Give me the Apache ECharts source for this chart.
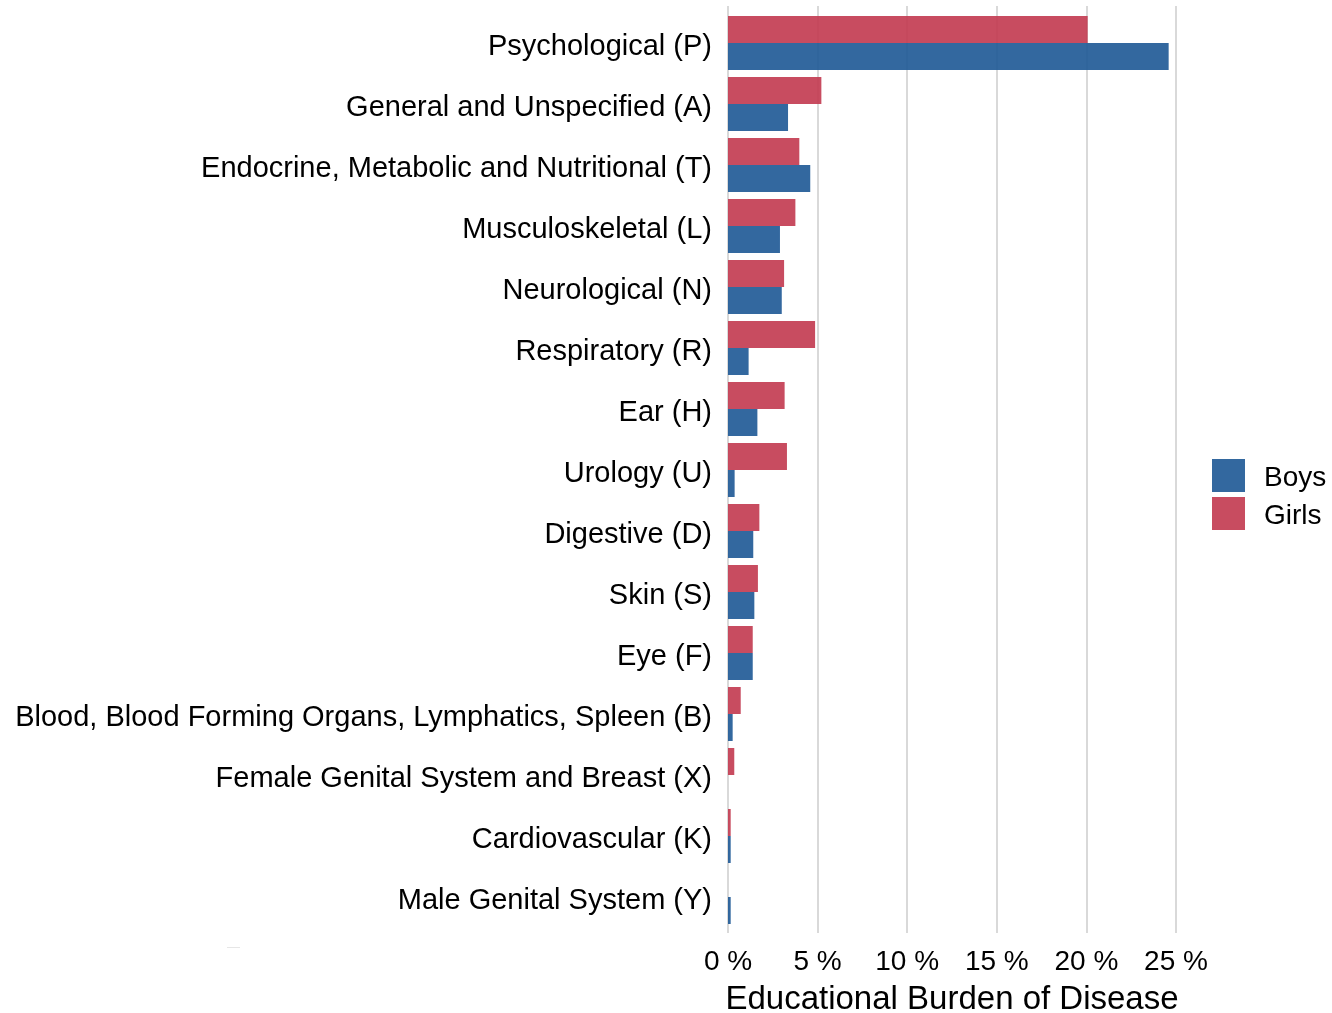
<!DOCTYPE html>
<html>
<head>
<meta charset="utf-8">
<script src="https://cdn.jsdelivr.net/npm/echarts@6/dist/echarts.min.js"></script>
<style>
  html, body { margin: 0; padding: 0; background: #fff; }
  #chart { width: 1332px; height: 1013px; }
</style>
</head>
<body>
<div id="chart"></div>
<script>
// categories top to bottom
const categories = [
  'Psychological (P)',
  'General and Unspecified (A)',
  'Endocrine, Metabolic and Nutritional (T)',
  'Musculoskeletal (L)',
  'Neurological (N)',
  'Respiratory (R)',
  'Ear (H)',
  'Urology (U)',
  'Digestive (D)',
  'Skin (S)',
  'Eye (F)',
  'Blood, Blood Forming Organs, Lymphatics, Spleen (B)',
  'Female Genital System and Breast (X)',
  'Cardiovascular (K)',
  'Male Genital System (Y)'
]
// percent of educational burden
const girls = [20.07, 5.21, 3.98, 3.76, 3.13, 4.86, 3.16, 3.29, 1.75, 1.67, 1.38, 0.71, 0.35, 0.15, null]
const boys = [24.59, 3.35, 4.59, 2.9, 3.0, 1.15, 1.64, 0.37, 1.41, 1.47, 1.38, 0.26, null, 0.15, 0.15]
const xTicks = [0, 5, 10, 15, 20, 25]

const font = "'Liberation Sans', Arial, sans-serif"
const plotLeft = 728
const plotRight = 1332 - 1176

const myChart = echarts.init(document.getElementById('chart'))

const option = {
  backgroundColor: '#fff',
  textStyle: { fontFamily: font },
  animation: false,
  legend: {
    data: ['Boys', 'Girls'],
    orient: 'vertical',
    left: 1207,
    top: 454,
    itemWidth: 33,
    itemHeight: 33,
    itemGap: 5,
    icon: 'rect',
    formatter: (name) => '{t|' + name + '}',
    textStyle: {
      fontSize: 28,
      color: '#000',
      fontFamily: font,
      rich: { t: { fontSize: 28, color: '#000', fontFamily: font, padding: [5, 0, 0, 14] } }
    }
  },
  grid: [
    // bars
    { left: plotLeft, right: plotRight, top: 12.5, height: 915, containLabel: false, outerBoundsMode: 'none' },
    // gridlines, extended a bit past the bars like ggplot
    { left: plotLeft, right: plotRight, top: 6, height: 927, containLabel: false, outerBoundsMode: 'none' }
  ],
  xAxis: [
    {
      type: 'value',
      gridIndex: 0,
      min: xTicks[0],
      max: xTicks[xTicks.length - 1],
      interval: 5,
      axisLine: { show: false },
      axisTick: { show: false },
      axisLabel: { show: false },
      splitLine: { show: false }
    },
    {
      type: 'value',
      gridIndex: 1,
      min: xTicks[0],
      max: xTicks[xTicks.length - 1],
      interval: 5,
      axisLine: { show: false },
      axisTick: { show: false },
      axisLabel: {
        formatter: '{value} %',
        fontSize: 28,
        color: '#000',
        margin: 15,
        fontFamily: font
      },
      splitLine: { show: true, lineStyle: { color: '#d9d9d9', width: 2 } },
      name: 'Educational Burden of Disease',
      nameLocation: 'middle',
      nameGap: 50,
      nameTextStyle: { fontSize: 33, color: '#000', fontFamily: font }
    }
  ],
  yAxis: [
    {
      type: 'category',
      gridIndex: 0,
      data: categories,
      inverse: true,
      axisLine: { show: false },
      axisTick: { show: false },
      splitLine: { show: false },
      axisLabel: {
        margin: 16,
        formatter: (v) => '{c|' + v + '}',
        rich: { c: { fontSize: 29, color: '#000', fontFamily: font, padding: [7, 0, 0, 0] } }
      }
    },
    {
      type: 'value',
      gridIndex: 1,
      show: false,
      min: 0,
      max: 1
    }
  ],
  series: [
    {
      name: 'Girls',
      type: 'bar',
      xAxisIndex: 0,
      yAxisIndex: 0,
      data: girls,
      barWidth: 27,
      barGap: '0%',
      itemStyle: { color: '#C2384F', opacity: 0.9 }
    },
    {
      name: 'Boys',
      type: 'bar',
      xAxisIndex: 0,
      yAxisIndex: 0,
      data: boys,
      barWidth: 27,
      barGap: '0%',
      itemStyle: { color: '#1D5895', opacity: 0.9 }
    }
  ],
  graphic: [
    // faint stray mark under the labels in the original
    { type: 'rect', left: 227, top: 947, shape: { width: 13, height: 1 }, style: { fill: '#e6e6e6' } }
  ]
}

myChart.setOption(option)
</script>
</body>
</html>
